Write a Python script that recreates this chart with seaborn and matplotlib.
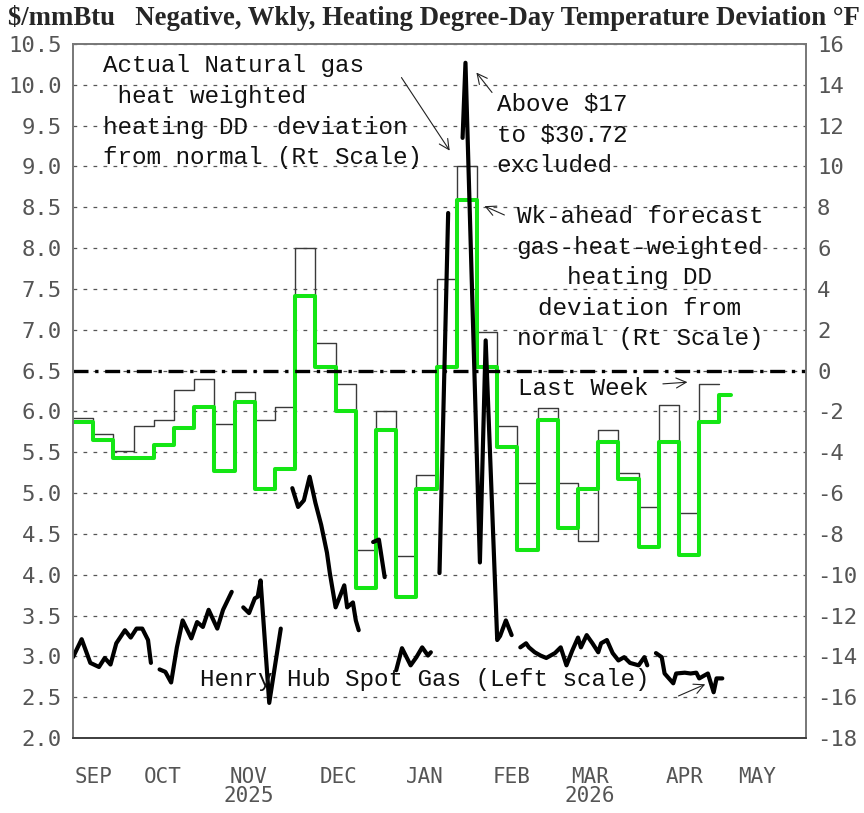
import numpy as np
import pandas as pd
import matplotlib
matplotlib.use('Agg')
import matplotlib.pyplot as plt
import matplotlib.dates as mdates
import seaborn as sns

# 주간 HDD 편차 (오른쪽 축, °F) - 2025-09-15 부터 1주 간격
week_start = '2025-09-15'
forecast_end = '2026-05-01'
forecast_dev = [-2.5, -3.4, -4.3, -4.3, -3.65, -2.8, -1.8, -4.9, -1.55, -5.8, -4.8,
                3.65, 0.2, -2.0, -10.65, -2.9, -11.1, -5.8, 0.2, 8.35, 0.2, -3.75,
                -8.8, -2.4, -7.7, -5.8, -3.5, -5.3, -8.65, -3.5, -9.05, -2.5, -1.2]
actual_dev = [-2.3, -3.1, -3.95, -2.7, -2.4, -0.95, -0.4, -2.6, -1.05, -2.4, -1.8,
              6.0, 1.35, -0.65, -8.8, -2.0, -9.1, -5.1, 4.5, 10.0, 1.9, -2.7,
              -5.5, -1.85, -5.5, -8.35, -2.9, -5.0, -6.7, -1.7, -7.0, -0.65]

# Henry Hub 현물가격 (왼쪽 축, $/mmBtu). None 은 선이 끊기는 곳
hh_dates = ['2025-09-15', '2025-09-18', '2025-09-21', '2025-09-24', '2025-09-26', '2025-09-28',
            '2025-09-30', '2025-10-03', '2025-10-05', '2025-10-07', '2025-10-09', '2025-10-11',
            '2025-10-12', '2025-10-13',
            '2025-10-15', '2025-10-17', '2025-10-19', '2025-10-21', '2025-10-23', '2025-10-26',
            '2025-10-28', '2025-10-30', '2025-11-01', '2025-11-04', '2025-11-06', '2025-11-09',
            '2025-11-11',
            '2025-11-13', '2025-11-15', '2025-11-17', '2025-11-18', '2025-11-19', '2025-11-22',
            '2025-11-26', '2025-11-28',
            '2025-11-30', '2025-12-02', '2025-12-04', '2025-12-06', '2025-12-08', '2025-12-10',
            '2025-12-12', '2025-12-13', '2025-12-15', '2025-12-18', '2025-12-19', '2025-12-21',
            '2025-12-22', '2025-12-23', '2025-12-25',
            '2025-12-28', '2025-12-30', '2026-01-01', '2026-01-03',
            '2026-01-05', '2026-01-07', '2026-01-10', '2026-01-12', '2026-01-14', '2026-01-16',
            '2026-01-17', '2026-01-18',
            '2026-01-20', '2026-01-23', '2026-01-25',
            '2026-01-28', '2026-01-29', '2026-02-03', '2026-02-05', '2026-02-09', '2026-02-10',
            '2026-02-12', '2026-02-14', '2026-02-15',
            '2026-02-17', '2026-02-19', '2026-02-20', '2026-02-22', '2026-02-24', '2026-02-26',
            '2026-03-01', '2026-03-03', '2026-03-05', '2026-03-07', '2026-03-09', '2026-03-10',
            '2026-03-12', '2026-03-14', '2026-03-16', '2026-03-17', '2026-03-19', '2026-03-21',
            '2026-03-23', '2026-03-25', '2026-03-27', '2026-03-30', '2026-04-01', '2026-04-02',
            '2026-04-03',
            '2026-04-05', '2026-04-07', '2026-04-08', '2026-04-11', '2026-04-12', '2026-04-15',
            '2026-04-17', '2026-04-19', '2026-04-20', '2026-04-23', '2026-04-25', '2026-04-26',
            '2026-04-28']
hh_price = [2.99, 3.21, 2.92, 2.87, 2.98, 2.90,
            3.16, 3.32, 3.23, 3.34, 3.34, 3.20,
            2.92, None,
            2.84, 2.81, 2.68, 3.11, 3.44, 3.22,
            3.42, 3.36, 3.57, 3.34, 3.57, 3.79,
            None,
            3.60, 3.53, 3.71, 3.73, 3.93, 2.43,
            3.34, None,
            5.06, 4.83, 4.91, 5.20, 4.88, 4.61,
            4.27, 4.02, 3.60, 3.87, 3.60, 3.66,
            3.44, 3.32, None,
            4.40, 4.43, 3.97, None,
            2.83, 3.10, 2.89, 2.99, 3.11, 3.01,
            3.05, None,
            4.02, 8.43, None,
            9.35, 10.27, 4.15, 6.87, 3.20, 3.25,
            3.44, 3.26, None,
            3.11, 3.16, 3.11, 3.05, 3.01, 2.98,
            3.04, 3.11, 2.89, 3.07, 3.23, 3.11,
            3.26, 3.16, 3.05, 3.16, 3.20, 3.04,
            2.95, 2.99, 2.92, 2.89, 2.99, 2.89,
            None,
            3.04, 2.99, 2.79, 2.67, 2.79, 2.80,
            2.79, 2.80, 2.73, 2.79, 2.56, 2.73,
            2.73]

# 축 눈금 라벨
left_ticks = np.arange(2.0, 10.51, 0.5)
right_ticks = list(range(-18, 17, 2))
month_label_dates = ['2025-09-22', '2025-10-16', '2025-11-15', '2025-12-16', '2026-01-15',
                     '2026-02-14', '2026-03-13', '2026-04-15', '2026-05-10']
month_labels = ['SEP', 'OCT', 'NOV\n2025', 'DEC', 'JAN', 'FEB', 'MAR\n2026', 'APR', 'MAY']

# 데이터프레임 만들기
weeks = pd.date_range(week_start, periods=len(forecast_dev), freq='7D')
fc = pd.DataFrame({'date': list(weeks) + [pd.Timestamp(forecast_end)],
                   'dev': forecast_dev + forecast_dev[-1:]})
ac = pd.DataFrame({'date': pd.date_range(week_start, periods=len(actual_dev) + 1, freq='7D'),
                   'dev': actual_dev + actual_dev[-1:]})
hh = pd.DataFrame({'date': pd.to_datetime(hh_dates), 'price': pd.to_numeric(pd.Series(hh_price))})
hh['seg'] = hh['price'].isna().cumsum()
hh = hh.dropna()

sns.set_style('white')
plt.rcParams['font.family'] = ['DejaVu Sans Mono', 'DejaVu Sans']

fig = plt.figure(figsize=(8.64, 8.13), dpi=100)
ax = fig.add_axes([73 / 864, 1 - 738 / 813, 733 / 864, 694 / 813])
ax2 = ax.twinx()

# HDD 편차 (계단선)
sns.lineplot(data=ac, x='date', y='dev', ax=ax, color='#3a3a3a', linewidth=1.0,
             drawstyle='steps-post', estimator=None)
sns.lineplot(data=fc, x='date', y='dev', ax=ax, color='#14e614', linewidth=2.9,
             drawstyle='steps-post', estimator=None)
ax.axhline(0, color='black', linewidth=2.4, linestyle=(0, (4.5, 2, 1, 2)))

# Henry Hub 가격
sns.lineplot(data=hh, x='date', y='price', units='seg', estimator=None, ax=ax2,
             color='black', linewidth=3)

ax.set_xlim(pd.Timestamp('2025-09-15'), pd.Timestamp('2026-05-27'))
ax.set_ylim(-18, 16)
ax2.set_ylim(2.0, 10.5)

# 오른쪽 축 = HDD, 왼쪽 축 = 가격
ax.yaxis.tick_right()
ax2.yaxis.tick_left()
ax.set_yticks(right_ticks)
ax.set_yticklabels([str(v) for v in right_ticks])
ax2.set_yticks(left_ticks)
ax2.set_yticklabels([f'{v:.1f}' for v in left_ticks])
ax.tick_params(axis='y', length=0, pad=8, labelsize=16, labelcolor='#555')
ax2.tick_params(axis='y', length=0, pad=8, labelsize=16, labelcolor='#555')
ax.set_xlabel('')
ax.set_ylabel('')
ax2.set_ylabel('')

ax.yaxis.grid(True, linestyle=(0, (3, 5)), color='#555', linewidth=0.9)
ax.xaxis.grid(False)
ax.set_axisbelow(True)

# x 축: 월 경계 눈금 + 월 이름
month_starts = pd.date_range('2025-10-01', '2026-05-01', freq='MS')
ax.set_xticks(mdates.date2num(month_starts))
ax.set_xticklabels([])
ax.set_xticks(mdates.date2num(pd.to_datetime(month_label_dates)), minor=True)
ax.set_xticklabels(month_labels, minor=True)
ax.tick_params(axis='x', which='major', direction='inout', length=26, width=1, color='#444')
ax.tick_params(axis='x', which='minor', length=0, pad=21, labelsize=15, labelcolor='#555')
for lbl in ax.get_xticklabels(minor=True):
    lbl.set_linespacing(0.95)

for a in (ax, ax2):
    for s in a.spines.values():
        s.set_color('#777')
        s.set_linewidth(1.2)
ax2.spines['bottom'].set_color('#333')

# 제목
fig.text(8 / 864, 1 - 18 / 813,
         r'\$/mmBtu   Negative, Wkly, Heating Degree-Day Temperature Deviation °F',
         family='Liberation Serif', weight='bold', fontsize=19.3, ha='left', va='center')

# 주석 텍스트와 화살표
note_font = dict(family='Liberation Mono', fontsize=17.5, color='#111', linespacing=1.42,
                 transform=ax2.transAxes)
ax2.text(0.041, 0.985, 'Actual Natural gas\n heat weighted\nheating DD  deviation\nfrom normal (Rt Scale)',
         va='top', ha='left', **note_font)
ax2.text(0.578, 0.929, 'Above \\$17\nto \\$30.72\nexcluded', va='top', ha='left', **note_font)
ax2.text(0.7735, 0.768, 'Wk-ahead forecast\ngas-heat-weighted\nheating DD\ndeviation from\nnormal (Rt Scale)',
         va='top', ha='center', multialignment='center', **note_font)
ax2.text(0.607, 0.504, 'Last Week', va='center', ha='left', **note_font)
ax2.text(0.173, 0.0836, 'Henry Hub Spot Gas (Left scale)', va='center', ha='left', **note_font)

arrows = [((0.446, 0.955), (0.516, 0.843)),
          ((0.574, 0.927), (0.548, 0.962)),
          ((0.592, 0.752), (0.558, 0.768)),
          ((0.801, 0.510), (0.842, 0.513)),
          ((0.8226, 0.059), (0.866, 0.079))]
for tail, head in arrows:
    ax2.annotate('', xy=head, xytext=tail, xycoords='axes fraction', textcoords='axes fraction',
                 arrowprops=dict(arrowstyle='->', color='#222', lw=0.8, mutation_scale=18),
                 annotation_clip=False)

fig.savefig('out.png', dpi=100)
